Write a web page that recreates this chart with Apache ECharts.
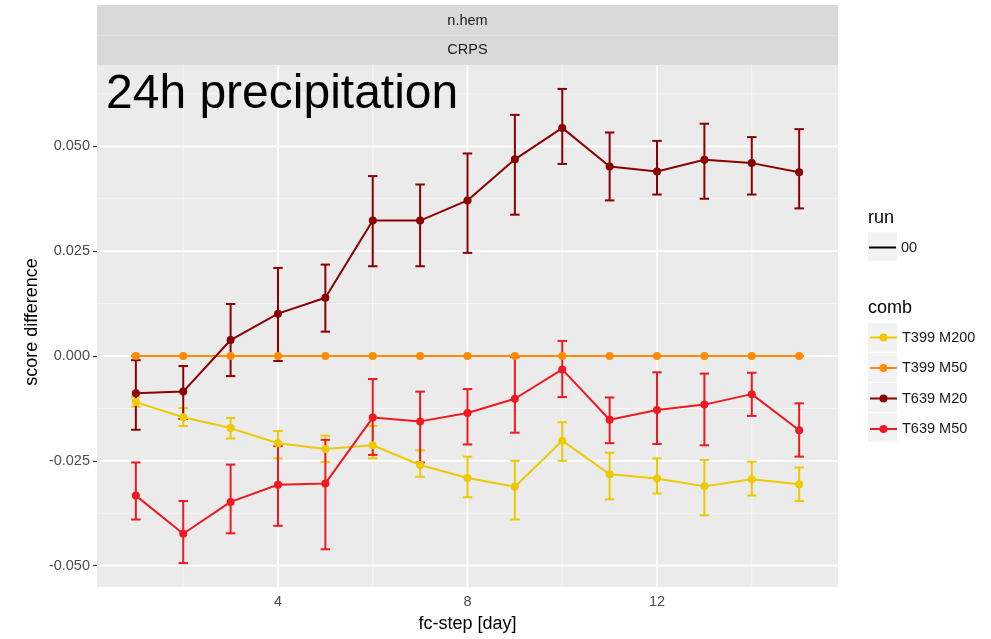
<!DOCTYPE html>
<html>
<head>
<meta charset="utf-8">
<script src="https://cdn.jsdelivr.net/npm/echarts@6/dist/echarts.min.js"></script>
<style>
html,body{margin:0;padding:0;background:#fff;}
#chart{width:991px;height:639px;}
</style>
</head>
<body>
<div id="chart"></div>
<script>
// ---- data ----
const days = [1,2,3,4,5,6,7,8,9,10,11,12,13,14,15];
const combNames = ['T399 M200','T399 M50','T639 M20','T639 M50'];
const runNames = ['00'];

const t399m200   = [-0.0110,-0.0146,-0.0172,-0.0208,-0.0222,-0.0213,-0.0260,-0.0291,-0.0312,-0.0202,-0.0282,-0.0292,-0.0311,-0.0294,-0.0306];
const t399m200Lo = [-0.0121,-0.0167,-0.0197,-0.0244,-0.0253,-0.0244,-0.0288,-0.0337,-0.0390,-0.0250,-0.0342,-0.0328,-0.0380,-0.0333,-0.0346];
const t399m200Hi = [-0.0097,-0.0124,-0.0148,-0.0179,-0.0190,-0.0167,-0.0225,-0.0240,-0.0250,-0.0158,-0.0231,-0.0244,-0.0248,-0.0252,-0.0266];

const t399m50   = [0,0,0,0,0,0,0,0,0,0,0,0,0,0,0];
const t399m50Lo = [0,0,0,0,0,0,0,0,0,0,0,0,0,0,0];
const t399m50Hi = [0,0,0,0,0,0,0,0,0,0,0,0,0,0,0];

const t639m20   = [-0.0089,-0.0085,0.0038,0.0101,0.0139,0.0323,0.0323,0.0371,0.0469,0.0544,0.0452,0.0440,0.0468,0.0460,0.0438];
const t639m20Lo = [-0.0176,-0.0150,-0.0048,-0.0012,0.0058,0.0214,0.0214,0.0246,0.0337,0.0458,0.0371,0.0385,0.0375,0.0385,0.0352];
const t639m20Hi = [-0.0010,-0.0024,0.0124,0.0210,0.0218,0.0429,0.0409,0.0483,0.0575,0.0637,0.0533,0.0513,0.0554,0.0522,0.0541];

const t639m50   = [-0.0333,-0.0424,-0.0348,-0.0307,-0.0304,-0.0147,-0.0156,-0.0136,-0.0102,-0.0032,-0.0152,-0.0129,-0.0116,-0.0091,-0.0177];
const t639m50Lo = [-0.0390,-0.0494,-0.0423,-0.0405,-0.0461,-0.0236,-0.0254,-0.0211,-0.0183,-0.0098,-0.0208,-0.0210,-0.0213,-0.0143,-0.0240];
const t639m50Hi = [-0.0254,-0.0346,-0.0259,-0.0215,-0.0200,-0.0055,-0.0085,-0.0079,-0.0003,0.0036,-0.0099,-0.0039,-0.0042,-0.0040,-0.0113];

const yTicks = [-0.05,-0.025,0,0.025,0.05];
const yMinor = [-0.0375,-0.0125,0.0125,0.0375,0.0625];
const xTicks = [4,8,12];
const xMinor = [2,6,10,14];

// ---- styling ----
const FONT = '"Liberation Sans", Arial, Helvetica, sans-serif';
const colors = ['#EEC900','#FF8C00','#8B0000','#EE1A1F'];
const means = [t399m200,t399m50,t639m20,t639m50];
const los = [t399m200Lo,t399m50Lo,t639m20Lo,t639m50Lo];
const his = [t399m200Hi,t399m50Hi,t639m20Hi,t639m50Hi];

const G = {left:97, top:65, width:741, height:522};

const chart = echarts.init(document.getElementById('chart'), null, {renderer:'canvas'});

function errRender(color){
  return function(params, api){
    const x = api.value(0), lo = api.value(1), hi = api.value(2);
    const pLo = api.coord([x, lo]);
    const pHi = api.coord([x, hi]);
    const hw = api.size([0.1, 0])[0];
    const st = {stroke: color, lineWidth: 2, fill: null};
    return {type:'group', children:[
      {type:'line', shape:{x1:pLo[0], y1:pLo[1], x2:pHi[0], y2:pHi[1]}, style:st},
      {type:'line', shape:{x1:pLo[0]-hw, y1:pLo[1], x2:pLo[0]+hw, y2:pLo[1]}, style:st},
      {type:'line', shape:{x1:pHi[0]-hw, y1:pHi[1], x2:pHi[0]+hw, y2:pHi[1]}, style:st}
    ]};
  };
}

function gridRender(horizontal){
  return function(params, api){
    const cs = params.coordSys;
    const p = api.coord([api.value(0), api.value(1)]);
    const major = api.value(2) === 1;
    const st = {stroke: major ? '#FFFFFF' : '#F7F7F7', lineWidth: major ? 1.7 : 0.8, fill:null};
    if (horizontal) {
      return {type:'line', shape:{x1:cs.x, y1:p[1], x2:cs.x+cs.width, y2:p[1]}, style:st};
    }
    return {type:'line', shape:{x1:p[0], y1:cs.y, x2:p[0], y2:cs.y+cs.height}, style:st};
  };
}

const series = [];
// grid lines through the axis scales
series.push({
  name:'__gridY', type:'custom', z:1, silent:true, renderItem:gridRender(true),
  data: yMinor.map(v=>[8, v, 0]).concat(yTicks.map(v=>[8, v, 1])),
  encode:{x:0, y:1}
});
series.push({
  name:'__gridX', type:'custom', z:1, silent:true, renderItem:gridRender(false),
  data: xMinor.map(v=>[v, 0, 0]).concat(xTicks.map(v=>[v, 0, 1])),
  encode:{x:0, y:1}
});
// error bars
combNames.forEach((n,i)=>{
  series.push({
    name:n+' err', type:'custom', z:3, silent:true,
    renderItem: errRender(colors[i]),
    data: days.map((d,k)=>[d, los[i][k], his[i][k]]),
    encode:{x:0, y:[1,2]}
  });
});
// lines + points
combNames.forEach((n,i)=>{
  series.push({
    name:n, type:'line', z:4,
    data: days.map((d,k)=>[d, means[i][k]]),
    symbol:'circle', symbolSize:8, showSymbol:true,
    lineStyle:{color:colors[i], width:2},
    itemStyle:{color:colors[i]},
    emphasis:{disabled:true}
  });
});
// run legend dummy
series.push({name:runNames[0], type:'line', data:[], symbol:'none', lineStyle:{color:'#000', width:2}, itemStyle:{color:'#000'}});

const keyBoxes = [];
[246.5].concat([337.5,367.5,397.5,427.5]).forEach(cy=>{
  keyBoxes.push({type:'rect', shape:{x:868, y:cy-14.25, width:29, height:28.5}, style:{fill:'#F2F2F2'}, z:-1, silent:true});
});

const option = {
  animation:false,
  backgroundColor:'#ffffff',
  textStyle:{fontFamily:FONT},
  grid:{left:G.left, top:G.top, width:G.width, height:G.height, show:true, backgroundColor:'#EBEBEB', borderWidth:0, containLabel:false},
  xAxis:{
    type:'value', min:0.18, max:15.82,
    axisLine:{show:false},
    splitLine:{show:false},
    axisTick:{show:true, customValues:xTicks, length:4, lineStyle:{color:'#333333', width:1.2}},
    axisLabel:{customValues:xTicks, color:'#4D4D4D', fontSize:14.5, fontFamily:FONT, margin:7}
  },
  yAxis:{
    type:'value', min:-0.0551, max:0.0694,
    axisLine:{show:false},
    splitLine:{show:false},
    axisTick:{show:true, customValues:yTicks, length:4, lineStyle:{color:'#333333', width:1.2}},
    axisLabel:{customValues:yTicks, color:'#4D4D4D', fontSize:14.5, fontFamily:FONT, margin:7,
      formatter:v=>v.toFixed(3)}
  },
  legend:[
    {data:runNames, orient:'vertical', left:869, top:240, padding:0, icon:'rect', itemWidth:27, itemHeight:2, itemGap:20,
      itemStyle:{color:'#000'},
      textStyle:{color:'#1A1A1A', fontSize:14.5, fontFamily:FONT}, selectedMode:false},
    {data:combNames, orient:'vertical', left:869, top:330, padding:0, itemWidth:27, itemHeight:10, itemGap:15.5,
      textStyle:{color:'#1A1A1A', fontSize:14.5, fontFamily:FONT, lineHeight:10}, selectedMode:false}
  ],
  graphic:[
    // strips
    {type:'rect', shape:{x:97, y:5, width:741, height:30}, style:{fill:'#D9D9D9'}, silent:true},
    {type:'rect', shape:{x:97, y:35, width:741, height:1}, style:{fill:'#E4E4E4'}, silent:true},
    {type:'rect', shape:{x:97, y:36, width:741, height:29}, style:{fill:'#D9D9D9'}, silent:true},
    {type:'text', x:467.5, y:21, style:{text:'n.hem', fill:'#1A1A1A', font:'14.5px '+FONT, textAlign:'center', textVerticalAlign:'middle'}, silent:true},
    {type:'text', x:467.5, y:50, style:{text:'CRPS', fill:'#1A1A1A', font:'14.5px '+FONT, textAlign:'center', textVerticalAlign:'middle'}, silent:true},
    // big title
    {type:'text', x:106, y:95, z:100, style:{text:'24h precipitation', fill:'#000', font:'48px '+FONT, textAlign:'left', textVerticalAlign:'middle'}, silent:true},
    // axis titles
    {type:'text', x:467.5, y:624, style:{text:'fc-step [day]', fill:'#000', font:'18px '+FONT, textAlign:'center', textVerticalAlign:'middle'}, silent:true},
    {type:'text', x:32, y:322, rotation:Math.PI/2, style:{text:'score difference', fill:'#000', font:'18px '+FONT, textAlign:'center', textVerticalAlign:'middle'}, silent:true},
    // legend titles
    {type:'text', x:868, y:218, style:{text:'run', fill:'#000', font:'18px '+FONT, textAlign:'left', textVerticalAlign:'middle'}, silent:true},
    {type:'text', x:868, y:308, style:{text:'comb', fill:'#000', font:'18px '+FONT, textAlign:'left', textVerticalAlign:'middle'}, silent:true}
  ].concat(keyBoxes),
  series: series
};
chart.setOption(option);
</script>
</body>
</html>
